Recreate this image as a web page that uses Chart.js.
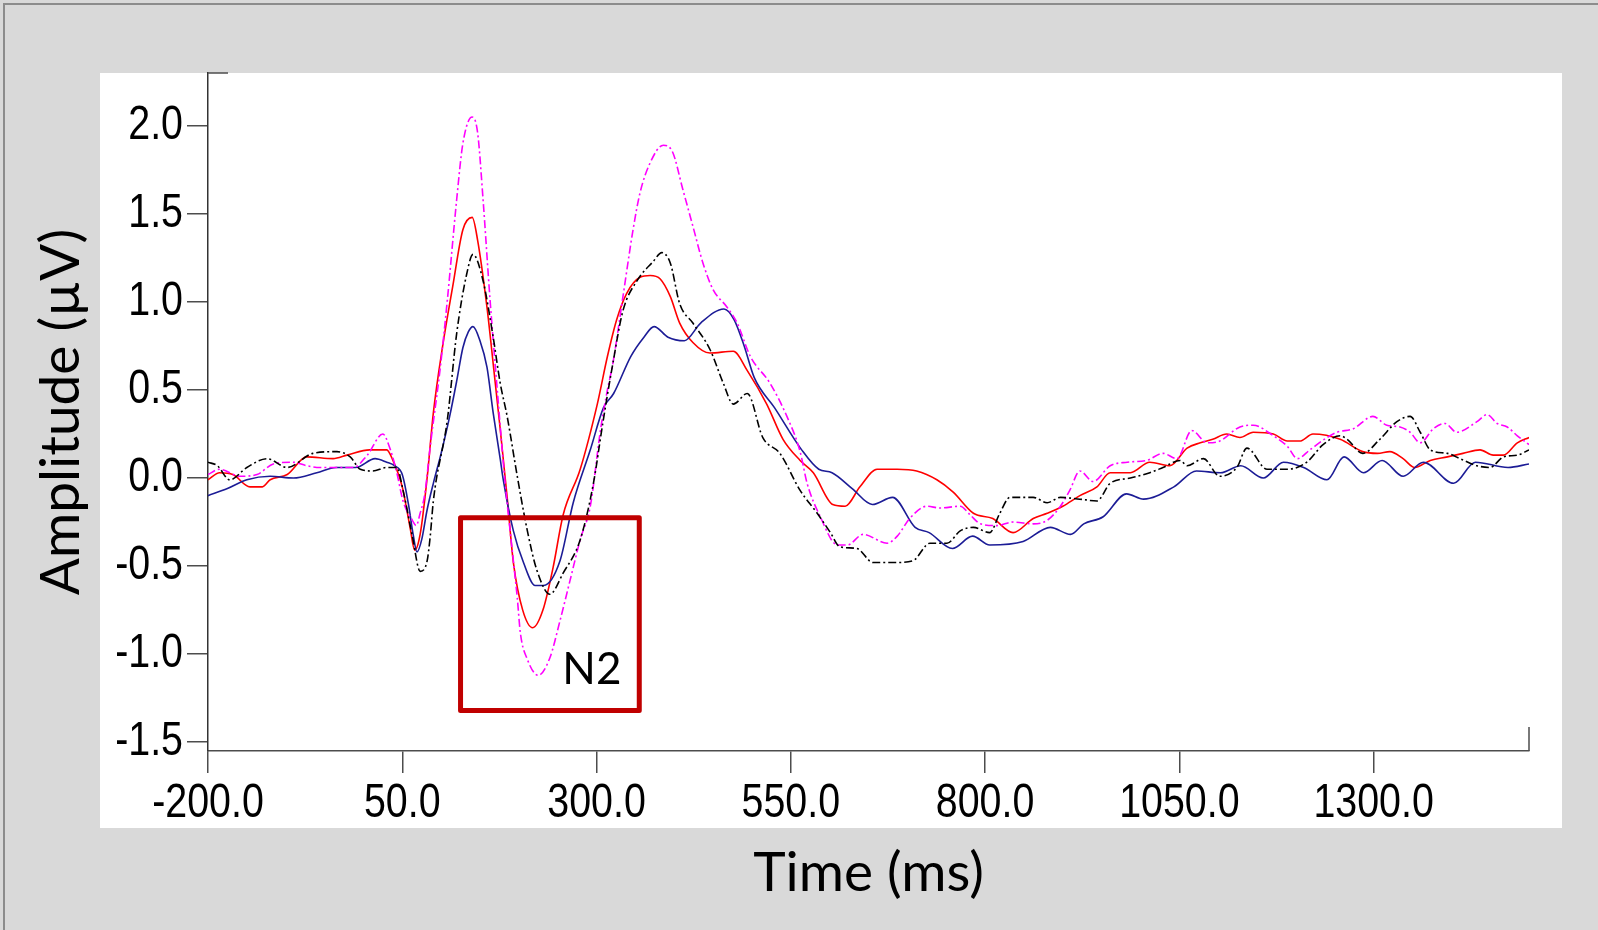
<!DOCTYPE html>
<html>
<head>
<meta charset="utf-8">
<script src="https://cdn.jsdelivr.net/npm/chart.js@4.4.1/dist/chart.umd.min.js"></script>
<style>
  html, body { margin: 0; padding: 0; background: #d9d9d9; }
  canvas { display: block; }
</style>
</head>
<body>
<canvas id="erp" width="1598" height="930"></canvas>
<script>
// ERP grand averages, time in ms, amplitude in microvolts
var xTicks = [-200, 50, 300, 550, 800, 1050, 1300];
var yTicks = [-1.5, -1.0, -0.5, 0.0, 0.5, 1.0, 1.5, 2.0];

var tBlue = [-200, -175, -150, -120, -90, -60, -35, -10, 15, 30, 40, 50, 58, 64, 69, 75, 82, 90, 100, 111, 120, 128, 135, 141, 150, 159, 167, 176, 180, 193, 206, 221, 232, 253, 270, 292, 309, 322, 344, 361, 374, 392, 413, 434, 464, 477, 490, 503, 529, 564, 586, 603, 629, 655, 681, 710, 728, 758, 784, 806, 849, 884, 910, 927, 952, 982, 1004, 1043, 1072, 1103, 1129, 1158, 1184, 1210, 1240, 1262, 1287, 1311, 1338, 1364, 1403, 1431, 1473, 1500];
var vBlue = [-0.10, -0.06, -0.01, 0.01, 0.00, 0.03, 0.06, 0.06, 0.11, 0.09, 0.07, 0.02, -0.15, -0.32, -0.42, -0.35, -0.18, -0.03, 0.14, 0.35, 0.55, 0.74, 0.83, 0.86, 0.78, 0.63, 0.37, 0.11, -0.01, -0.30, -0.48, -0.61, -0.61, -0.47, -0.14, 0.16, 0.40, 0.48, 0.69, 0.80, 0.86, 0.80, 0.78, 0.88, 0.96, 0.90, 0.75, 0.57, 0.40, 0.16, 0.05, 0.03, -0.06, -0.15, -0.11, -0.28, -0.31, -0.40, -0.33, -0.38, -0.36, -0.28, -0.32, -0.26, -0.22, -0.09, -0.12, -0.05, 0.04, 0.03, 0.07, 0.00, 0.09, 0.06, -0.01, 0.12, 0.03, 0.10, 0.01, 0.09, -0.03, 0.09, 0.06, 0.08];

var tRed = [-200, -185, -168, -146, -130, -120, -98, -73, -39, -21, 8, 30, 38, 50, 60, 66, 73, 82, 90, 102, 115, 128, 140, 147, 159, 167, 176, 185, 193, 205, 218, 231, 244, 257, 279, 301, 314, 326, 339, 356, 369, 382, 395, 407, 424, 446, 476, 494, 519, 540, 562, 579, 604, 620, 639, 661, 687, 712, 738, 759, 785, 810, 836, 862, 880, 900, 922, 944, 961, 987, 1012, 1038, 1060, 1077, 1093, 1111, 1128, 1145, 1171, 1189, 1205, 1222, 1257, 1286, 1305, 1321, 1338, 1353, 1373, 1395, 1415, 1437, 1454, 1467, 1485, 1500];
var vRed = [-0.01, 0.03, 0.02, -0.05, -0.05, -0.01, 0.02, 0.12, 0.11, 0.13, 0.16, 0.16, 0.10, -0.05, -0.28, -0.41, -0.32, 0.00, 0.37, 0.75, 1.09, 1.41, 1.48, 1.35, 0.97, 0.65, 0.28, -0.11, -0.48, -0.75, -0.85, -0.75, -0.51, -0.21, 0.05, 0.42, 0.69, 0.90, 1.05, 1.14, 1.15, 1.13, 1.03, 0.88, 0.77, 0.71, 0.72, 0.61, 0.42, 0.22, 0.10, 0.03, -0.15, -0.16, -0.05, 0.05, 0.05, 0.04, -0.01, -0.08, -0.20, -0.23, -0.31, -0.23, -0.20, -0.16, -0.10, -0.05, 0.03, 0.03, 0.09, 0.07, 0.17, 0.20, 0.22, 0.25, 0.23, 0.26, 0.25, 0.21, 0.21, 0.25, 0.22, 0.15, 0.14, 0.15, 0.11, 0.06, 0.10, 0.12, 0.14, 0.16, 0.13, 0.13, 0.20, 0.23];

var tBlack = [-200, -188, -172, -150, -124, -98, -65, -34, -17, -4, 12, 30, 43, 51, 63, 73, 82, 86, 90, 108, 120, 133, 141, 154, 167, 176, 185, 198, 211, 223, 240, 257, 279, 296, 308, 321, 334, 352, 373, 384, 395, 407, 424, 446, 463, 476, 494, 514, 536, 562, 584, 601, 613, 635, 656, 682, 707, 729, 751, 768, 785, 806, 819, 832, 862, 880, 897, 922, 944, 961, 987, 1012, 1029, 1051, 1060, 1081, 1102, 1124, 1137, 1163, 1189, 1214, 1235, 1257, 1266, 1286, 1308, 1330, 1347, 1360, 1373, 1395, 1411, 1433, 1450, 1467, 1485, 1500];
var vBlack = [0.09, 0.07, -0.01, 0.06, 0.11, 0.06, 0.14, 0.15, 0.12, 0.05, 0.04, 0.06, 0.06, -0.07, -0.33, -0.53, -0.47, -0.33, -0.13, 0.33, 0.82, 1.16, 1.27, 1.12, 0.80, 0.54, 0.35, 0.01, -0.30, -0.52, -0.66, -0.54, -0.35, -0.03, 0.31, 0.65, 0.95, 1.12, 1.23, 1.28, 1.22, 0.99, 0.88, 0.73, 0.54, 0.42, 0.48, 0.23, 0.14, -0.07, -0.20, -0.31, -0.39, -0.40, -0.48, -0.48, -0.47, -0.37, -0.37, -0.30, -0.28, -0.31, -0.20, -0.11, -0.11, -0.14, -0.11, -0.12, -0.13, -0.03, 0.00, 0.03, 0.06, 0.10, 0.07, 0.11, 0.01, 0.06, 0.17, 0.05, 0.05, 0.09, 0.19, 0.24, 0.22, 0.14, 0.22, 0.32, 0.35, 0.26, 0.16, 0.14, 0.11, 0.07, 0.06, 0.12, 0.13, 0.16];

var tMagenta = [-200, -185, -159, -137, -116, -91, -73, -56, -34, -13, 5, 25, 34, 43, 51, 63, 68, 73, 79, 86, 99, 108, 120, 128, 140, 147, 154, 163, 173, 182, 191, 198, 202, 211, 225, 240, 253, 266, 279, 292, 305, 314, 321, 334, 347, 356, 369, 386, 398, 411, 424, 437, 450, 468, 481, 498, 523, 545, 562, 571, 588, 610, 623, 643, 674, 687, 703, 725, 742, 768, 781, 794, 815, 836, 862, 880, 897, 909, 922, 939, 961, 983, 1008, 1029, 1047, 1066, 1086, 1102, 1128, 1145, 1171, 1189, 1202, 1218, 1240, 1253, 1274, 1299, 1317, 1334, 1347, 1360, 1377, 1392, 1407, 1433, 1446, 1459, 1472, 1485, 1500];
var vMagenta = [0.02, 0.05, 0.01, 0.02, 0.08, 0.09, 0.07, 0.06, 0.06, 0.06, 0.13, 0.25, 0.17, 0.03, -0.13, -0.24, -0.27, -0.20, -0.09, 0.18, 0.63, 1.01, 1.58, 1.90, 2.05, 1.96, 1.58, 1.01, 0.46, -0.01, -0.39, -0.68, -0.88, -1.03, -1.12, -1.02, -0.81, -0.58, -0.35, -0.16, 0.27, 0.50, 0.65, 1.03, 1.41, 1.62, 1.79, 1.89, 1.85, 1.64, 1.43, 1.22, 1.07, 0.97, 0.88, 0.69, 0.54, 0.35, 0.15, -0.03, -0.22, -0.38, -0.38, -0.32, -0.37, -0.33, -0.23, -0.16, -0.17, -0.16, -0.21, -0.26, -0.27, -0.25, -0.26, -0.24, -0.16, -0.07, 0.04, -0.02, 0.07, 0.09, 0.10, 0.14, 0.11, 0.27, 0.20, 0.21, 0.29, 0.30, 0.24, 0.18, 0.11, 0.16, 0.23, 0.26, 0.28, 0.35, 0.30, 0.29, 0.26, 0.20, 0.28, 0.31, 0.26, 0.32, 0.36, 0.31, 0.29, 0.24, 0.19];

// N2 window marked on the figure (ms, µV)
var n2Box = [125, 355, -0.225, -1.32];

function pts(ts, vs) {
  return ts.map(function (t, i) { return { x: t, y: vs[i] }; });
}

var titleFont = { family: "Lato, 'Open Sans', sans-serif", size: 55 };
// no Arial Narrow here, so squeeze Liberation Sans by hand
var labelFont = "48px 'Liberation Sans', Arial, sans-serif";
var squeeze = 0.82;

function narrowText(c, txt, x, y, align, base) {
  c.save();
  c.translate(x, y);
  c.scale(squeeze, 1);
  c.textAlign = align;
  c.textBaseline = base;
  c.fillText(txt, 0, 0);
  c.restore();
}

var backdrop = {
  id: 'backdrop',
  beforeDraw: function (chart) {
    var c = chart.ctx, a = chart.chartArea;
    c.save();
    c.fillStyle = '#d9d9d9';
    c.fillRect(0, 0, chart.width, chart.height);
    c.strokeStyle = '#8c8c8c';
    c.lineWidth = 2;
    c.beginPath();
    c.moveTo(4, chart.height); c.lineTo(4, 4); c.lineTo(chart.width, 4);
    c.stroke();
    c.fillStyle = '#ffffff';
    c.fillRect(a.left - 108, a.top, a.right - a.left + 141, a.bottom - a.top + 77);
    c.restore();
  },
  afterDatasetsDraw: function (chart) {
    var c = chart.ctx, a = chart.chartArea;
    var xs = chart.scales.x, ys = chart.scales.y;
    c.save();
    // small end ticks of the axes
    c.strokeStyle = '#4d4d4d';
    c.lineWidth = 1.5;
    c.beginPath();
    c.moveTo(a.left, a.top); c.lineTo(a.left + 20, a.top);
    c.moveTo(a.right, a.bottom); c.lineTo(a.right, a.bottom - 24);
    c.stroke();
    // N2 window
    var x0 = xs.getPixelForValue(n2Box[0]), x1 = xs.getPixelForValue(n2Box[1]);
    var y0 = ys.getPixelForValue(n2Box[2]), y1 = ys.getPixelForValue(n2Box[3]);
    c.strokeStyle = '#c00000';
    c.lineWidth = 5;
    c.lineJoin = 'round';
    c.strokeRect(x0, y0, x1 - x0, y1 - y0);
    c.fillStyle = '#000000';
    c.font = "44px Lato, 'Open Sans', sans-serif";
    c.textBaseline = 'alphabetic';
    c.fillText('N2', xs.getPixelForValue(256), ys.getPixelForValue(-1.17));
    c.restore();
  },
  afterDraw: function (chart) {
    var c = chart.ctx, a = chart.chartArea;
    var xs = chart.scales.x, ys = chart.scales.y;
    c.save();
    c.fillStyle = '#000000';
    c.font = labelFont;
    xs.ticks.forEach(function (t) {
      narrowText(c, t.value.toFixed(1), xs.getPixelForValue(t.value), a.bottom + 66, 'center', 'alphabetic');
    });
    ys.ticks.forEach(function (t) {
      narrowText(c, t.value.toFixed(1), a.left - 25, ys.getPixelForValue(t.value), 'right', 'middle');
    });
    c.restore();
  }
};

var ctx = document.getElementById('erp').getContext('2d');
var chart = new Chart(ctx, {
  type: 'line',
  data: {
    datasets: [
      { data: pts(tBlack, vBlack), borderColor: '#000000', borderDash: [8, 3, 2, 3] },
      { data: pts(tMagenta, vMagenta), borderColor: '#ff00ff', borderDash: [8, 3, 2, 3] },
      { data: pts(tBlue, vBlue), borderColor: '#1c1c96' },
      { data: pts(tRed, vRed), borderColor: '#ff0000' }
    ]
  },
  options: {
    responsive: false,
    animation: false,
    parsing: false,
    layout: { padding: { left: 0, top: 73, right: 69, bottom: 0 } },
    elements: {
      point: { radius: 0 },
      line: { borderWidth: 1.6, cubicInterpolationMode: 'monotone', fill: false }
    },
    plugins: { legend: { display: false }, tooltip: { enabled: false } },
    scales: {
      x: {
        type: 'linear',
        min: -200,
        max: 1500,
        afterBuildTicks: function (s) { s.ticks = xTicks.map(function (v) { return { value: v }; }); },
        afterFit: function (s) { s.height = 930 - 751; },
        grid: { drawOnChartArea: false, drawTicks: true, tickLength: 22, color: '#4d4d4d', lineWidth: 1.5 },
        border: { display: true, color: '#4d4d4d', width: 1.5 },
        ticks: { display: false },
        title: { display: true, text: 'Time (ms)', color: '#000000', font: titleFont, padding: { top: 0, bottom: 24 } }
      },
      y: {
        type: 'linear',
        min: -1.55,
        max: 2.30,
        afterBuildTicks: function (s) { s.ticks = yTicks.map(function (v) { return { value: v }; }); },
        afterFit: function (s) { s.width = 208; },
        grid: { drawOnChartArea: false, drawTicks: true, tickLength: 21, color: '#4d4d4d', lineWidth: 1.5 },
        border: { display: true, color: '#333333', width: 1.5 },
        ticks: { display: false },
        title: { display: true, text: 'Amplitude (µV)', color: '#000000', font: titleFont, padding: { top: 28, bottom: 0 } }
      }
    }
  },
  plugins: [backdrop]
});
</script>
</body>
</html>
